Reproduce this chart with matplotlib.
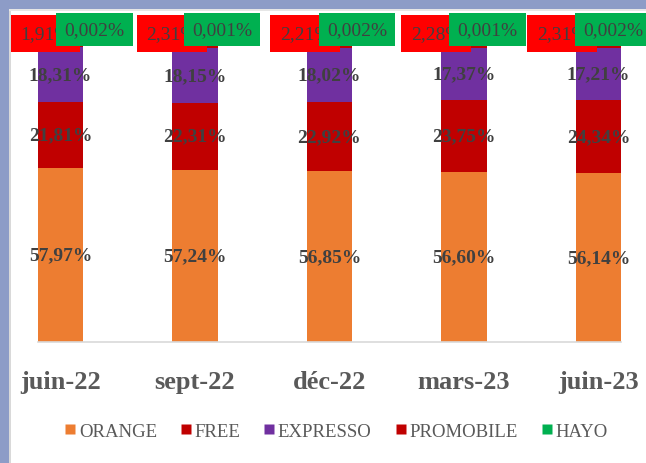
import matplotlib
matplotlib.use("Agg")
import matplotlib.pyplot as plt
from matplotlib.lines import Line2D
from matplotlib.patches import Rectangle
import numpy as np

categories = ["juin-22", "sept-22", "déc-22", "mars-23", "juin-23"]
orange = [57.97, 57.24, 56.85, 56.60, 56.14]
free = [21.81, 22.31, 22.92, 23.75, 24.34]
expresso = [18.31, 18.15, 18.02, 17.37, 17.21]
promobile = [1.91, 2.31, 2.21, 2.28, 2.31]
hayo = [0.002, 0.001, 0.002, 0.001, 0.002]
series_names = ["ORANGE", "FREE", "EXPRESSO", "PROMOBILE", "HAYO"]

colors = ["#ED7D31", "#C00000", "#7030A0", "#C00000", "#00B050"]
# label offsets (pixels) for the boxed top labels
promo_dx = [-15.5, -23.5, -24.5, -28, -36]
hayo_dx = [34, 27, 27.5, 23.5, 14.5]

W, H = 646, 464
fig = plt.figure(figsize=(W / 100, H / 100), dpi=100)
fig.patch.set_facecolor("white")

# window border (blue-grey) on top and left
border = "#8D9CC7"
fig.patches.append(Rectangle((0, 1 - 10 / H), 1, 10 / H, transform=fig.transFigure,
                             facecolor=border, edgecolor="none", zorder=0))
fig.patches.append(Rectangle((0, 0), 9 / W, 1, transform=fig.transFigure,
                             facecolor=border, edgecolor="none", zorder=0))
fig.patches.append(Rectangle((9 / W, 0), 2 / W, 1 - 10 / H, transform=fig.transFigure,
                             facecolor="#D9D9D9", edgecolor="none", zorder=0))
fig.patches.append(Rectangle((9 / W, 1 - 12 / H), 1, 2 / H, transform=fig.transFigure,
                             facecolor="#E6E6E6", edgecolor="none", zorder=0))

x0, x1 = 38, 621
yb, yt = 343, 42
ax = fig.add_axes([x0 / W, (H - yb) / H, (x1 - x0) / W, (yb - yt) / H])
ax.set_facecolor("none")

x = np.arange(len(categories))
bw = 45 / 134
ax.set_xlim(-bw / 2, len(categories) - 1 + bw / 2)
ax.set_ylim(0, 100)

data = [orange, free, expresso, promobile, hayo]
bottom = np.zeros(len(categories))
for vals, col in zip(data, colors):
    ax.bar(x, vals, bw, bottom=bottom, color=col, edgecolor="none", zorder=2)
    bottom += np.array(vals)

serif = ["Liberation Serif", "DejaVu Serif"]

def fmt(v, nd=2):
    return (f"{v:.{nd}f}%").replace(".", ",")

# labels inside the three main segments
bottom = np.zeros(len(categories))
for vals in data[:3]:
    for i, v in enumerate(vals):
        ax.text(x[i], bottom[i] + v / 2, fmt(v), ha="center", va="center",
                fontsize=14, fontweight="bold", color="#404040",
                family=serif, zorder=5)
    bottom += np.array(vals)

# boxed labels at the top
for i in range(len(categories)):
    top = orange[i] + free[i] + expresso[i] + promobile[i]
    ax.annotate(fmt(promobile[i]), xy=(x[i], top), xycoords="data",
                xytext=(promo_dx[i] * 0.72, (42 - 34.5) * 0.72), textcoords="offset points",
                ha="center", va="center", fontsize=14, color="#404040", family=serif,
                bbox=dict(boxstyle="square,pad=0.5", facecolor="#FF0000", edgecolor="none"),
                annotation_clip=False, zorder=6)
    ax.annotate(fmt(hayo[i], 3), xy=(x[i], top), xycoords="data",
                xytext=(hayo_dx[i] * 0.72, (42 - 30.5) * 0.72), textcoords="offset points",
                ha="center", va="center", fontsize=14, color="#404040", family=serif,
                bbox=dict(boxstyle="square,pad=0.42", facecolor="#00B050", edgecolor="none"),
                annotation_clip=False, zorder=7)

for s in ["top", "right", "left"]:
    ax.spines[s].set_visible(False)
ax.spines["bottom"].set_color("#D9D9D9")
ax.spines["bottom"].set_linewidth(1.2)
ax.set_yticks([])
ax.set_xticks(x)
ax.set_xticklabels(categories, fontsize=19, fontweight="bold", color="#595959", family=serif)
ax.tick_params(axis="x", length=0, pad=20)

handles = [Line2D([], [], marker="s", linestyle="none", markersize=6.5,
                  markerfacecolor=c, markeredgecolor="none") for c in colors]
leg = fig.legend(handles, series_names, loc="center", bbox_to_anchor=(336 / W, 1 - 432 / H),
                 ncol=5, frameon=False, handlelength=0.6, handletextpad=0.15,
                 columnspacing=1.25, prop=dict(family=serif, size=13.5))
for t in leg.get_texts():
    t.set_color("#595959")

fig.savefig("out.png", dpi=100)
